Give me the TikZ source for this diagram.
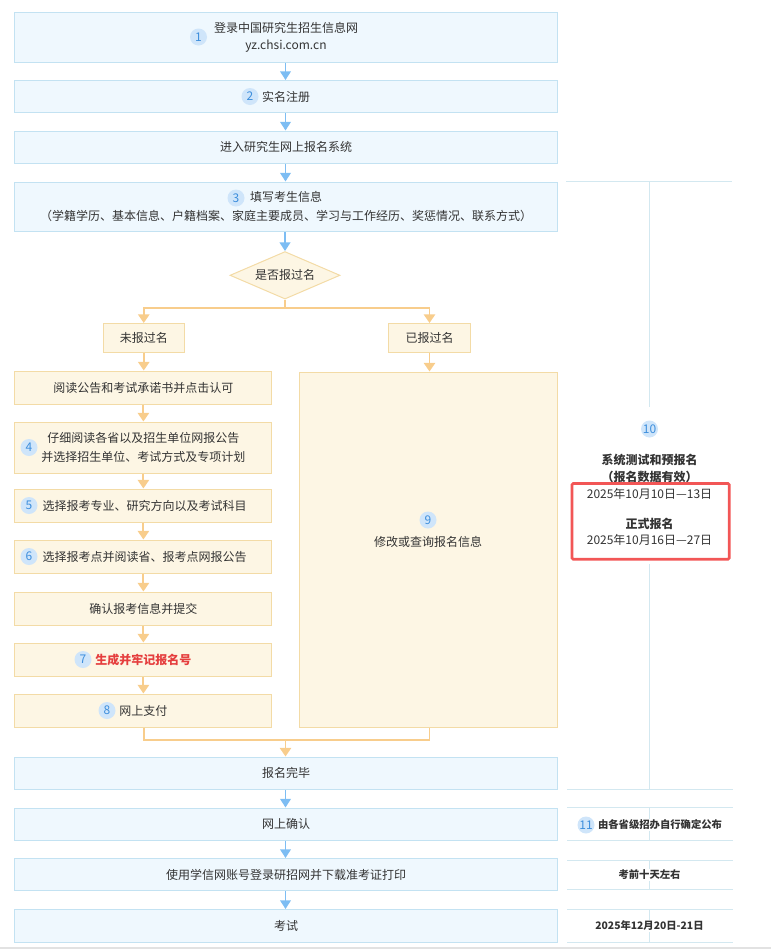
\documentclass[tikz,border=0pt]{standalone}
\usepackage{fontspec}
\setmainfont{Noto Sans CJK SC}
\usetikzlibrary{arrows.meta,shapes.geometric}
\definecolor{bluefill}{HTML}{EFF8FE}
\definecolor{blueborder}{HTML}{C3E2F2}
\definecolor{orfill}{HTML}{FDF6E4}
\definecolor{orborder}{HTML}{F3DBA6}
\definecolor{bluearrow}{HTML}{7DBDF3}
\definecolor{orarrow}{HTML}{F8CD8C}
\definecolor{numfill}{HTML}{CFE5FA}
\definecolor{numtext}{HTML}{3D8EDC}
\definecolor{txt}{HTML}{333333}
\definecolor{rline}{HTML}{D3E8F0}
\definecolor{redbox}{HTML}{F25656}
\definecolor{redtxt}{HTML}{E53E3E}
\definecolor{greyline}{HTML}{E2E2E2}
\tikzset{
  base/.style={font=\fontsize{9pt}{13pt}\selectfont, text=txt, align=center, inner sep=0pt},
  bbox/.style={base, draw=blueborder, fill=bluefill, line width=0.75pt, minimum width=543*0.75pt},
  obox/.style={base, draw=orborder, fill=orfill, line width=0.75pt},
  lbox/.style={obox, minimum width=257*0.75pt, minimum height=33*0.75pt},
  numc/.style={circle, fill=numfill, text=numtext, minimum size=17*0.75pt, inner sep=0pt, font=\fontsize{9pt}{9pt}\selectfont},
  barrow/.style={draw=bluearrow, line width=1.3pt, -{Triangle[length=6.5pt,width=8pt]}},
  oarrow/.style={draw=orarrow, line width=1.4pt, -{Triangle[length=6.5pt,width=8.5pt]}},
  oline/.style={draw=orarrow, line width=1.4pt},
  rl/.style={draw=rline, line width=0.75pt},
  rtxt/.style={font=\fontsize{7.75pt}{9pt}\selectfont\bfseries, text=txt, fill=white, inner sep=1pt},
}
\begin{document}
\begin{tikzpicture}[x=0.75pt,y=-0.75pt]
\useasboundingbox (0,0) rectangle (771,950);
% main blue boxes
\node[bbox, minimum height=50*0.75pt] (b1) at (286,37) {登录中国研究生招生信息网\\yz.chsi.com.cn};
\node[bbox, minimum height=32*0.75pt] (b2) at (286,96.5) {实名注册};
\node[bbox, minimum height=32*0.75pt] (b3) at (286,147) {进入研究生网上报名系统};
\node[bbox, minimum height=49.5*0.75pt] (b4) at (286,206.75) {填写考生信息\\[1pt]（学籍学历、基本信息、户籍档案、家庭主要成员、学习与工作经历、奖惩情况、联系方式）};
\node[numc] (n1) at (198.5,37) {1};
\node[numc] (n2) at (250,96.5) {2};
\node[numc] (n3) at (236,198) {3};
% decision
\node[base, diamond, draw=orborder, fill=orfill, line width=0.75pt, aspect=2.3, minimum width=110*0.75pt, minimum height=47.5*0.75pt] (dia) at (285,275.3) {是否报过名};
\node[obox, minimum width=81.5*0.75pt, minimum height=29*0.75pt] (wei) at (143.75,338) {未报过名};
\node[obox, minimum width=82*0.75pt, minimum height=29*0.75pt] (yi) at (429.5,338) {已报过名};
% left column
\node[lbox] (o1) at (143.4,387.5) {阅读公告和考试承诺书并点击认可};
\node[lbox, minimum height=51*0.75pt] (o2) at (143.4,447.5) {仔细阅读各省以及招生单位网报公告\\[1.5pt]并选择招生单位、考试方式及专项计划};
\node[lbox] (o3) at (143.4,505.5) {\hspace*{2pt}选择报考专业、研究方向以及考试科目};
\node[lbox] (o4) at (143.4,556.5) {\hspace*{2pt}选择报考点并阅读省、报考点网报公告};
\node[lbox] (o5) at (143.4,608.5) {确认报考信息并提交};
\node[lbox] (o6) at (143.4,659.5) {\textcolor{redtxt}{\bfseries 生成并牢记报名号}};
\node[lbox] (o7) at (143.4,710.5) {网上支付};
\node[numc] (n4) at (29,447.5) {4};
\node[numc] (n5) at (29,505.5) {5};
\node[numc] (n6) at (29,556.5) {6};
\node[numc] (n7) at (83,659.5) {7};
\node[numc] (n8) at (107,710.5) {8};
% right big box
\node[obox, minimum width=258*0.75pt, minimum height=355*0.75pt] (big) at (428,549.5) {};
\node[numc] (n9) at (428,520) {9};
\node[base] (t9) at (428,542) {修改或查询报名信息};
% lower blue boxes
\node[bbox, minimum height=32.5*0.75pt] (b5) at (286,773.25) {报名完毕};
\node[bbox, minimum height=32*0.75pt] (b6) at (286,824) {网上确认};
\node[bbox, minimum height=32*0.75pt] (b7) at (286,874.5) {使用学信网账号登录研招网并下载准考证打印};
\node[bbox, minimum height=32.5*0.75pt] (b8) at (286,925.75) {考试};
% blue arrows
\draw[barrow] (b1.south -| 285.5,0) -- (b2.north -| 285.5,0);
\draw[barrow] (b2.south -| 285.5,0) -- (b3.north -| 285.5,0);
\draw[barrow] (b3.south -| 285.5,0) -- (b4.north -| 285.5,0);
\draw[barrow] (b4.south -| dia.north) -- (dia.north);
\draw[barrow] (b5.south -| 285.5,0) -- (b6.north -| 285.5,0);
\draw[barrow] (b6.south -| 285.5,0) -- (b7.north -| 285.5,0);
\draw[barrow] (b7.south -| 285.5,0) -- (b8.north -| 285.5,0);
% orange branches
\coordinate (split) at (285,308);
\draw[oline] (dia.south) -- (split);
\draw[oarrow] (split) -| (wei.north);
\draw[oarrow] (split) -| (yi.north);
\draw[oarrow] (wei.south) -- (wei.south |- o1.north);
\draw[oarrow] (yi.south) -- (yi.south |- big.north);
\draw[oarrow] (o1) -- (o2);
\draw[oarrow] (o2) -- (o3);
\draw[oarrow] (o3) -- (o4);
\draw[oarrow] (o4) -- (o5);
\draw[oarrow] (o5) -- (o6);
\draw[oarrow] (o6) -- (o7);
\coordinate (mj) at (285.5,740);
\draw[oline] (wei.south |- o7.south) |- (mj) -| (yi.south |- big.south);
\draw[oarrow] (mj) -- (mj |- b5.north);
% right column
\draw[rl] (566,181) -- (732,181);
\draw[rl] (649.5,181) -- (649.5,407);
\draw[rl] (649.5,564) -- (649.5,789.3);
\foreach \yy in {789.3,807,840.5,860,889.5,909,942}{\draw[rl] (567,\yy) -- (733,\yy);}
\draw[rl] (649.5,807) -- (649.5,840.5);
\draw[rl] (649.5,860) -- (649.5,889.5);
\draw[rl] (649.5,909) -- (649.5,942);
\node[numc] (n10) at (649.5,429) {10};
\node[base, font=\fontsize{9pt}{12.75pt}\selectfont] (t10a) at (649.5,476.5) {\bfseries 系统测试和预报名\\ \bfseries （报名数据有效）\\ 2025年10月10日—13日};
\node[base, font=\fontsize{9pt}{12pt}\selectfont] (t10b) at (649.5,531.5) {\bfseries 正式报名\\ 2025年10月16日—27日};
\draw[draw=redbox, line width=2pt, rounded corners=1pt] (572,483.5) rectangle (729.3,559.3);
\node[rtxt] (t11) at (660,825) {由各省级招办自行确定公布};
\node[numc] (n11) at (586,825) {11};
\node[rtxt] (t12) at (649.5,875) {考前十天左右};
\node[rtxt] (t13) at (649.5,926) {2025年12月20日-21日};
% bottom edge
\draw[draw=greyline, line width=1.5pt] (0,947.5) -- (771,947.5);
\end{tikzpicture}
\end{document}
